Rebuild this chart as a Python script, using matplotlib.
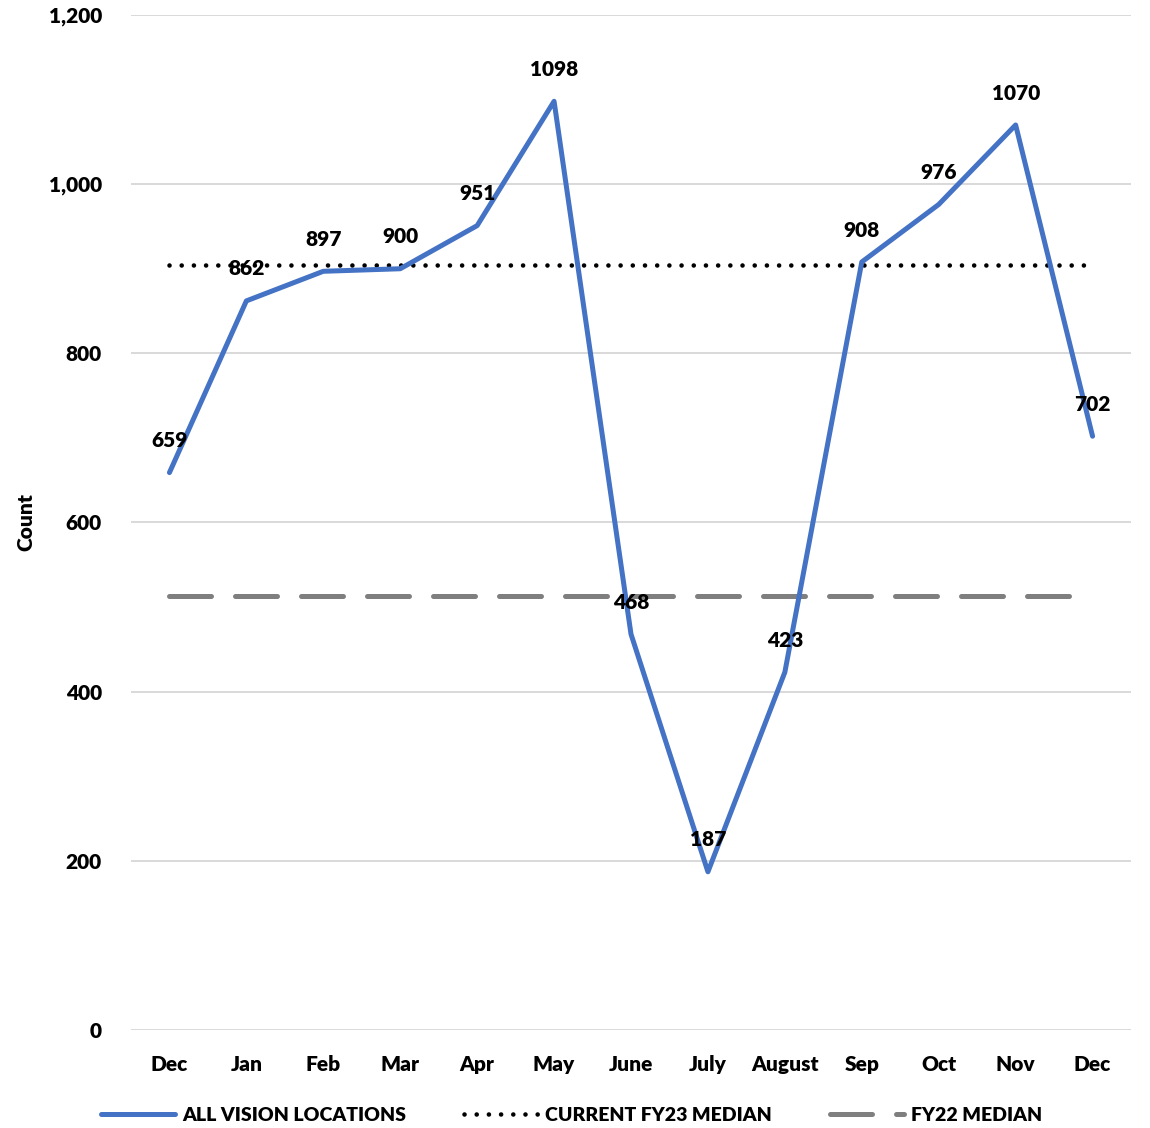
import matplotlib
matplotlib.use("Agg")
import matplotlib.pyplot as plt
from matplotlib.ticker import FuncFormatter, MultipleLocator

months = ["Dec", "Jan", "Feb", "Mar", "Apr", "May", "June", "July",
          "August", "Sep", "Oct", "Nov", "Dec"]
all_vision = [659, 862, 897, 900, 951, 1098, 468, 187, 423, 908, 976, 1070, 702]
fy23_median = 904
fy22_median = 513

plt.rcParams["font.family"] = ["Lato", "DejaVu Sans"]
W = "heavy"
FS = 15

fig = plt.figure(figsize=(11.5, 11.28), dpi=100)
ax = fig.add_axes([0.1139, 0.0869, 0.8696, 0.8998])

x = list(range(len(months)))

ax.plot(x, [fy22_median] * len(x), color="#7F7F7F", lw=3.6,
        linestyle=(0, (8.4, 4.8)), dash_capstyle="round",
        label="FY22 MEDIAN", zorder=2)
ax.plot(x, [fy23_median] * len(x), color="black", lw=3.3,
        linestyle=(0, (0.01, 2.65)), dash_capstyle="round",
        label="CURRENT FY23 MEDIAN", zorder=2)
ax.plot(x, all_vision, color="#4472C4", lw=3.6, solid_capstyle="round",
        solid_joinstyle="round", label="ALL VISION LOCATIONS", zorder=3)

for xi, v in zip(x, all_vision):
    ax.annotate(f"{v}", (xi, v), xytext=(0, 23), textcoords="offset points",
                ha="center", va="center", fontsize=FS, fontweight=W,
                color="black", zorder=4)

ax.set_xlim(-0.5, len(months) - 0.5)
ax.set_ylim(0, 1200)
ax.yaxis.set_major_locator(MultipleLocator(200))
ax.yaxis.set_major_formatter(FuncFormatter(lambda v, p: f"{int(v):,}"))
ax.set_xticks(x)
ax.set_xticklabels(months)
ax.tick_params(axis="both", length=0, labelsize=FS, colors="black")
ax.tick_params(axis="x", pad=18)
ax.tick_params(axis="y", pad=21)
for lbl in ax.get_xticklabels() + ax.get_yticklabels():
    lbl.set_fontweight(W)

ax.grid(axis="y", color="#D9D9D9", lw=1.4)
ax.set_axisbelow(True)
for s in ax.spines.values():
    s.set_visible(False)

ax.set_ylabel("Count", fontsize=FS, fontweight=W)
ax.yaxis.set_label_coords(-0.096, 0.5)

handles, labels = ax.get_legend_handles_labels()
order = [2, 1, 0]
leg = fig.legend([handles[i] for i in order], [labels[i] for i in order],
                 loc="center", bbox_to_anchor=(0.497, 0.011), ncol=3,
                 frameon=False, fontsize=14, handlelength=3.8,
                 handletextpad=0.35, columnspacing=3.0)
for t in leg.get_texts():
    t.set_fontweight(W)

fig.savefig("out.png", dpi=100)
